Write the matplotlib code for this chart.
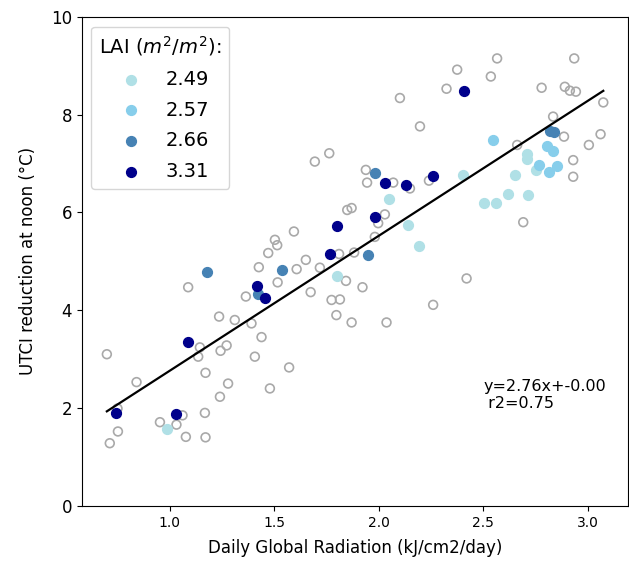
import numpy as np
import matplotlib
matplotlib.use('Agg')
import matplotlib.pyplot as plt

# all sites (open grey circles)
all_x = [0.70, 1.145, 1.137, 1.244, 1.273, 1.44, 1.408, 0.842, 1.172, 1.28,
         1.241, 1.48, 0.751, 1.062, 1.169, 0.954, 1.033, 0.753, 0.714, 1.078,
         1.172, 1.504, 1.515, 1.472, 1.427, 1.517, 1.089, 1.365, 1.237, 1.312,
         1.392, 2.198, 1.764, 1.695, 1.939, 1.945, 2.07, 2.15, 2.241, 1.85,
         1.871, 2.03, 1.998, 1.595, 1.982, 1.811, 1.883, 1.652, 1.608, 1.719,
         1.844, 1.923, 1.675, 1.775, 1.815, 1.798, 1.871, 2.038, 2.261, 1.572,
         2.102, 2.567, 2.936, 2.376, 2.537, 2.325, 2.78, 2.891, 2.915, 2.944,
         3.075, 2.835, 2.887, 3.062, 3.006, 2.663, 2.931, 2.931, 2.692, 2.421]
all_y = [3.10, 3.24, 3.05, 3.17, 3.28, 3.45, 3.05, 2.53, 2.72, 2.50,
         2.23, 2.40, 1.99, 1.85, 1.90, 1.71, 1.66, 1.52, 1.28, 1.41,
         1.40, 5.44, 5.33, 5.17, 4.88, 4.57, 4.47, 4.28, 3.87, 3.80,
         3.73, 7.76, 7.21, 7.04, 6.87, 6.61, 6.61, 6.49, 6.65, 6.05,
         6.09, 5.96, 5.78, 5.61, 5.50, 5.15, 5.18, 5.03, 4.84, 4.87,
         4.60, 4.47, 4.37, 4.21, 4.22, 3.90, 3.75, 3.75, 4.11, 2.83,
         8.34, 9.15, 9.15, 8.92, 8.78, 8.53, 8.55, 8.57, 8.49, 8.47,
         8.25, 7.96, 7.55, 7.60, 7.38, 7.38, 7.07, 6.73, 5.80, 4.65]

# sites grouped by LAI (m2/m2)
lai_labels = ['2.49', '2.57', '2.66', '3.31']
lai_colors = ['powderblue', 'skyblue', 'steelblue', 'darkblue']

lai_x = [
    [0.989, 2.051, 2.139, 2.194, 1.802, 2.402, 2.708, 2.708, 2.753, 2.652, 2.617, 2.713, 2.505, 2.561],
    [2.545, 2.807, 2.833, 2.768, 2.855, 2.815],
    [1.177, 1.537, 1.424, 1.982, 1.950, 2.82, 2.84],
    [0.746, 1.033, 1.089, 1.416, 1.456, 1.802, 1.767, 1.982, 2.033, 2.129, 2.261, 2.41],
]
lai_y = [
    [1.57, 6.27, 5.74, 5.31, 4.71, 6.77, 7.19, 7.10, 6.87, 6.77, 6.38, 6.36, 6.20, 6.20],
    [7.48, 7.35, 7.26, 6.97, 6.94, 6.83],
    [4.79, 4.82, 4.33, 6.81, 5.12, 7.67, 7.65],
    [1.90, 1.88, 3.34, 4.50, 4.26, 5.72, 5.16, 5.91, 6.60, 6.56, 6.75, 8.49],
]

# linear fit shown on the chart
slope = 2.76
intercept = -0.00
r2 = 0.75

fig = plt.figure(figsize=(6.29, 5.62), dpi=100)
ax = fig.add_axes([0.130, 0.100, 0.869, 0.870])

ax.scatter(all_x, all_y, s=40, facecolors='none', edgecolors='darkgray', linewidths=1.2)

for xs, ys, c, lab in zip(lai_x, lai_y, lai_colors, lai_labels):
    ax.scatter(xs, ys, s=50, color=c, label=lab)

xfit = np.array([min(all_x), max(all_x)])
ax.plot(xfit, slope * xfit + intercept, color='black', linewidth=1.6)

ax.text(2.5, 2, 'y={:.2f}x+-{:.2f}\n r2={:.2f}'.format(slope, abs(intercept), r2), fontsize=11.5)

ax.set_xlim(0.58, 3.195)
ax.set_ylim(0, 10)
ax.set_xlabel('Daily Global Radiation (kJ/cm2/day)', fontsize=12, labelpad=7)
ax.set_ylabel('UTCI reduction at noon (°C)', fontsize=12, labelpad=10)
ax.tick_params(axis='y', labelsize=12)
ax.tick_params(axis='x', labelsize=10)

ax.legend(title='LAI ($m^2/m^2$):', loc='upper left', fontsize=14, title_fontsize=14,
          labelspacing=0.6)

plt.savefig('out.png', dpi=100)
